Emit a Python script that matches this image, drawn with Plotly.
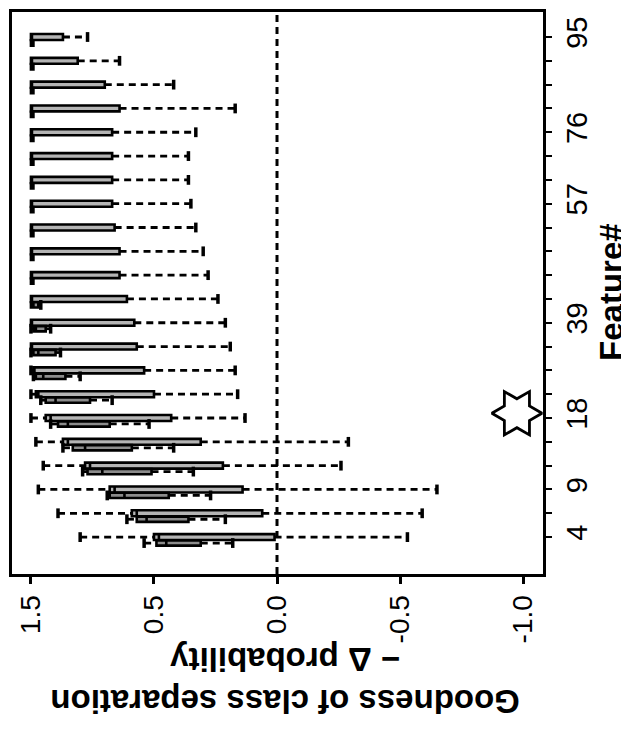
import plotly.graph_objects as go

# ---- data (positions 1..22 from bottom to top) ----
positions = list(range(1, 23))
tick_labels = {1: "4", 3: "9", 6: "18", 10: "39", 15: "57", 18: "76", 22: "95"}

# upper box per feature (A)
a_max = [0.80, 0.89, 0.97, 0.95, 0.98, 1.00, 1.00, 1.00, 1.00, 1.00, 1.00,
         1.00, 1.00, 1.00, 1.00, 1.00, 1.00, 1.00, 1.00, 1.00, 1.00, 1.00]
a_q3 = [0.50, 0.59, 0.68, 0.78, 0.87, 0.94, 0.98, 0.99, 1.00, 1.00, 1.00,
        1.00, 1.00, 1.00, 1.00, 1.00, 1.00, 1.00, 1.00, 1.00, 1.00, 1.00]
a_med = [0.48, 0.57, 0.66, 0.76, 0.85, 0.92, 0.97, 0.99, 1.00, 1.00, 1.00,
         1.00, 1.00, 1.00, 1.00, 1.00, 1.00, 1.00, 1.00, 1.00, 1.00, 1.00]
a_q1 = [0.01, 0.06, 0.14, 0.22, 0.31, 0.43, 0.50, 0.54, 0.57, 0.58, 0.61,
        0.64, 0.64, 0.66, 0.67, 0.67, 0.67, 0.67, 0.64, 0.70, 0.81, 0.87]
a_min = [-0.53, -0.59, -0.65, -0.26, -0.29, 0.13, 0.16, 0.17, 0.19, 0.21, 0.24,
         0.28, 0.30, 0.33, 0.35, 0.36, 0.36, 0.33, 0.17, 0.42, 0.64, 0.77]

# lower box per feature (B)
b_max = [0.54, 0.61, 0.69, 0.79, 0.87, 0.92, 0.96, 0.99, 1.00, 1.00, 1.00,
         1.00, 1.00, 1.00, 1.00, 1.00, 1.00, 1.00, 1.00, 1.00, 1.00, 1.00]
b_q3 = [0.49, 0.57, 0.68, 0.77, 0.83, 0.89, 0.94, 0.98, 0.99, 0.99, 1.00,
        1.00, 1.00, 1.00, 1.00, 1.00, 1.00, 1.00, 1.00, 1.00, 1.00, 1.00]
b_med = [0.45, 0.53, 0.62, 0.71, 0.78, 0.85, 0.90, 0.95, 0.97, 0.98, 0.99,
         1.00, 1.00, 1.00, 1.00, 1.00, 1.00, 1.00, 1.00, 1.00, 1.00, 1.00]
b_q1 = [0.31, 0.36, 0.44, 0.51, 0.59, 0.68, 0.76, 0.86, 0.90, 0.94, 0.97,
        0.99, 0.99, 0.99, 0.99, 0.99, 0.99, 0.99, 0.99, 0.99, 0.99, 0.99]
b_min = [0.18, 0.21, 0.27, 0.34, 0.42, 0.52, 0.67, 0.80, 0.88, 0.92, 0.96,
         0.99, 0.99, 0.99, 0.99, 0.99, 0.99, 0.99, 0.99, 0.99, 0.99, 0.99]

x_tickvals = [1.0, 0.5, 0.0, -0.5, -1.0]
x_ticktext = ["1.5", "0.5", "0.0", "-0.5", "-1.0"]

star_value = -0.975
star_pos = 6.2

# ---- styling ----
B_OFFSET = -0.25
FONT = "Liberation Sans, Arial, sans-serif"

fig = go.Figure()


def add_box_group(ys, mx, q3, med, q1, mn, fill, width):
    fig.add_trace(go.Box(
        orientation="h", y=ys, q1=q1, median=med, q3=q3,
        lowerfence=q1, upperfence=q3, width=width, whiskerwidth=0,
        fillcolor=fill, line=dict(color="black", width=2.6),
        boxpoints=False, hoverinfo="skip"))
    wx, wy = [], []
    for y, a, b, c, d in zip(ys, mx, q3, q1, mn):
        if a != b:
            wx += [a, b, None]
            wy += [y, y, None]
        if c != d:
            wx += [c, d, None]
            wy += [y, y, None]
    fig.add_trace(go.Scatter(x=wx, y=wy, mode="lines",
                             line=dict(color="black", width=2.8, dash="7px,5px"),
                             hoverinfo="skip"))
    cx, cy = [], []
    for y, a, b, c, d in zip(ys, mx, q3, q1, mn):
        if a != b:
            cx.append(a); cy.append(y)
        if c != d:
            cx.append(d); cy.append(y)
    fig.add_trace(go.Scatter(x=cx, y=cy, mode="markers",
                             marker=dict(symbol="line-ns-open", size=7, color="black",
                                         line=dict(color="black", width=3.5)),
                             hoverinfo="skip"))


ys_a = positions
ys_b = [p + B_OFFSET for p in positions]
add_box_group(ys_a, a_max, a_q3, a_med, a_q1, a_min, "#b4b4b4", 0.25)
add_box_group(ys_b, b_max, b_q3, b_med, b_q1, b_min, "#8c8c8c", 0.22)

fig.add_trace(go.Scatter(x=[star_value], y=[star_pos], mode="markers",
                         marker=dict(symbol="hexagram-open", size=38, angle=90,
                                     color="black",
                                     line=dict(color="black", width=2.8)),
                         hoverinfo="skip"))

fig.add_shape(type="line", x0=0, x1=0, y0=0, y1=1, xref="x", yref="paper",
              line=dict(color="black", width=3, dash="7px,5px"), layer="below")

fig.update_layout(
    width=629, height=729,
    margin=dict(l=4, r=94, t=4, b=163, autoexpand=False),
    plot_bgcolor="white", paper_bgcolor="white",
    showlegend=False,
    font=dict(family=FONT, color="black"),
    xaxis=dict(range=[1.077, -1.081], tickvals=x_tickvals, ticktext=x_ticktext,
               tickangle=-90, ticks="outside", ticklen=7, tickwidth=3,
               tickcolor="black", showline=True, linewidth=3, linecolor="black",
               mirror=True, showgrid=False, zeroline=False,
               tickfont=dict(size=28, family=FONT)),
    yaxis=dict(range=[-0.55, 23.05], side="right", tickvals=positions,
               ticktext=[tick_labels.get(p, "") for p in positions],
               tickangle=-90, ticks="outside", ticklen=6, tickwidth=2,
               tickcolor="black", showline=True, linewidth=3, linecolor="black",
               mirror=True, showgrid=False, zeroline=False,
               tickfont=dict(size=29, family=FONT)),
    annotations=[
        dict(text="<b>Feature#</b>", x=1.130, y=0.502, xref="paper", yref="paper",
             showarrow=False, textangle=-90, font=dict(size=33, family=FONT),
             xanchor="center", yanchor="middle"),
        dict(text="<b>Goodness of class separation<br>\u2212 \u0394 probability</b>",
             x=0.514, y=-0.189, xref="paper", yref="paper", showarrow=False,
             textangle=180, font=dict(size=33, family=FONT),
             xanchor="center", yanchor="middle"),
    ],
)

fig.write_html("out.html")
